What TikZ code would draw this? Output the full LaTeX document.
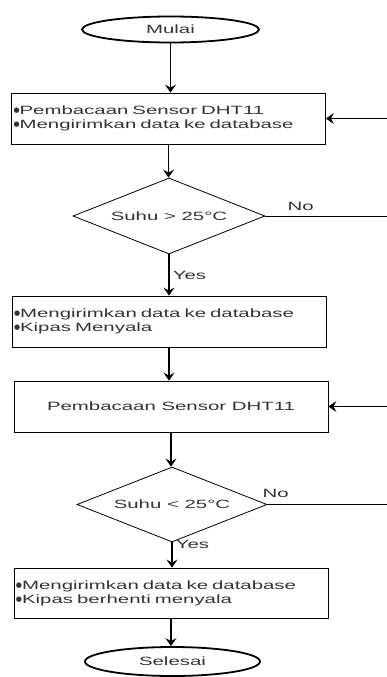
\documentclass[tikz,border=0pt]{standalone}
\usepackage{fontspec}
\newfontfamily\flowfont[FakeStretch=1.7]{Liberation Sans}
\newfontfamily\dotfont{DejaVu Sans}
\newcommand{\bul}{\raisebox{2pt}{\dotfont\fontsize{7}{7}\selectfont ●}}
\usetikzlibrary{arrows.meta,shapes.geometric}

\begin{document}
\begin{tikzpicture}[x=1pt, y=-1pt, every node/.style={font=\flowfont\fontsize{12}{14}\selectfont, text=black!80}, >={Stealth[length=8pt,width=11pt,inset=3pt]},
	term/.style={draw, ellipse, line width=1.8pt, minimum width=177pt, minimum height=26pt, inner sep=0pt},
	proc/.style={draw, rectangle, line width=0.8pt, minimum width=314pt, minimum height=51pt, inner sep=0pt},
	list/.style={proc, text width=310pt, inner xsep=2pt, align=left},
	cond/.style={draw, diamond, shape aspect=2.5, line width=0.8pt, minimum width=192pt, minimum height=76pt, inner sep=0pt},
	flow/.style={->, line width=1.1pt}]
	\useasboundingbox (0,0) rectangle (387,677);
	\node[term] (start) at (170.5,29.5) {Mulai};
	\node[list] (read1) at (168.5,118.5) {\bul Pembacaan Sensor DHT11\\\bul Mengirimkan data ke database};
	\node[cond] (dec1) at (169,216) {Suhu > 25°C};
	\node[list] (act1) at (169,321.5) {\bul Mengirimkan data ke database\\\bul Kipas Menyala};
	\node[proc] (read2) at (171,406.5) {Pembacaan Sensor DHT11};
	\node[cond, minimum width=190pt, minimum height=75pt] (dec2) at (172,504.5) {Suhu < 25°C};
	\node[list, minimum height=50pt] (act2) at (171,593) {\bul Mengirimkan data ke database\\\bul Kipas berhenti menyala};
	\node[term, minimum width=175pt, minimum height=29pt] (stop) at (172.5,661.5) {Selesai};
	\coordinate (edge) at (387,0);
	\foreach \a/\b in {start/read1, read1/dec1, act1/read2, read2/dec2, act2/stop} {\draw[flow] (\a.south) -- (\a.south |- \b.north);}
	\draw[flow] (dec1.south) -- (dec1.south |- act1.north) node[pos=.5, right] {Yes};
	\draw[flow] (dec2.south) -- (dec2.south |- act2.north) node[pos=.1, right] {Yes};
	\draw[line width=0.8pt] (dec1.east) -- (dec1.east -| edge) node[pos=.29, above=2pt] {No};
	\draw[line width=0.8pt] (dec2.east) -- (dec2.east -| edge) node[pos=.07, above=3pt] {No};
	\foreach \n in {read1, read2} {\draw[flow] (\n.east -| edge) -- (\n.east);}
\end{tikzpicture}
\end{document}
